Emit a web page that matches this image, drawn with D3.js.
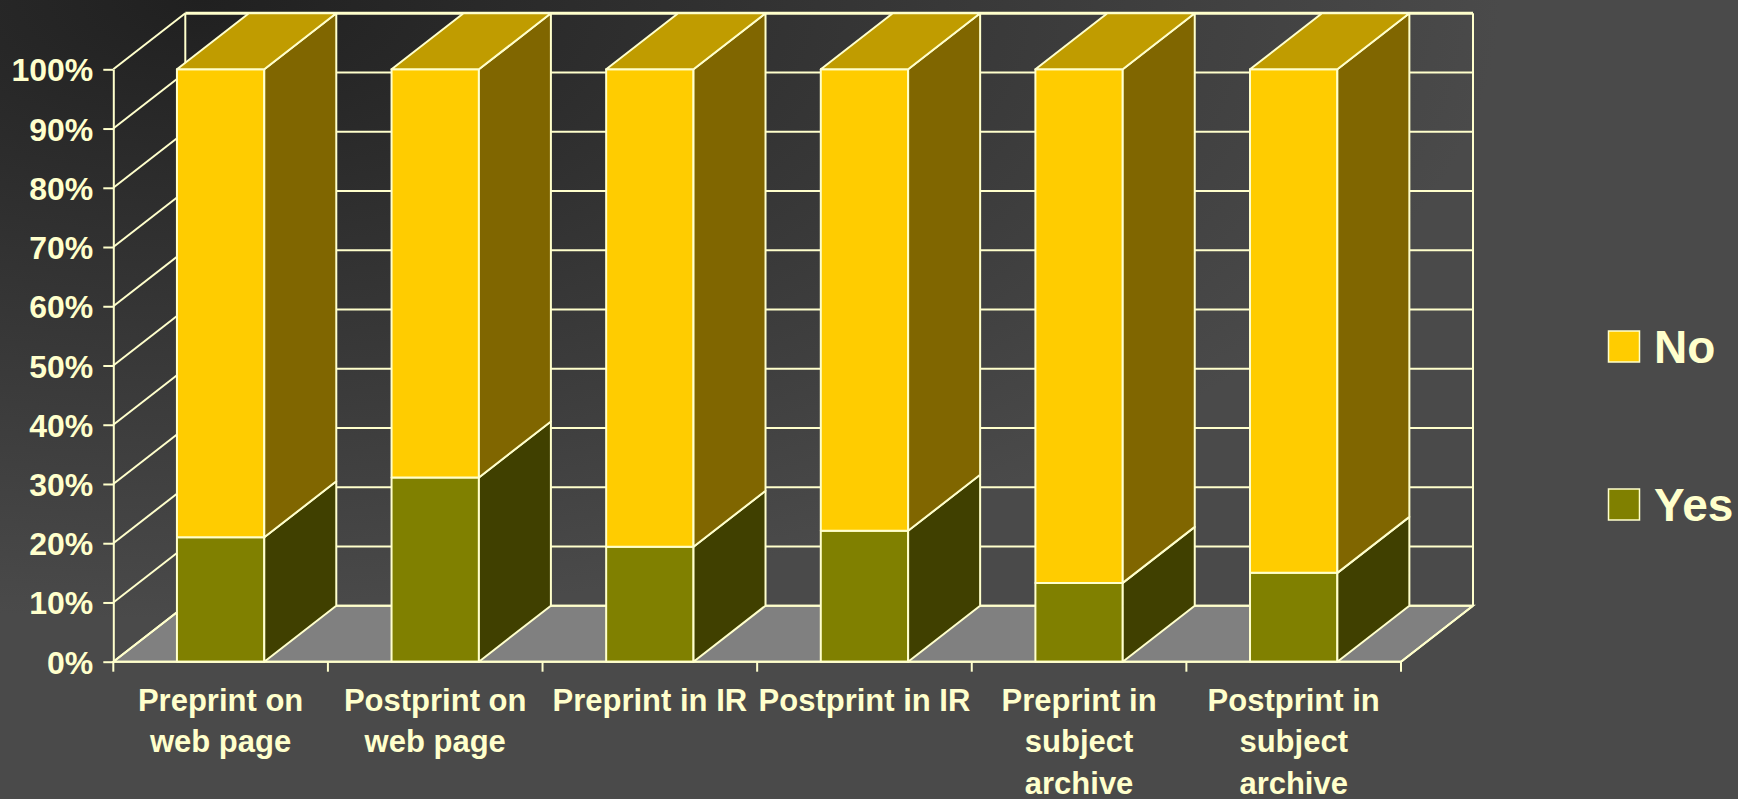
<!DOCTYPE html>
<html>
<head>
<meta charset="utf-8">
<script src="https://cdn.jsdelivr.net/npm/d3@7"></script>
<style>
  html, body { margin: 0; padding: 0; background: #3a3a3a; }
  svg { display: block; }
  text { font-family: "Liberation Sans", Arial, sans-serif; font-weight: bold; fill: #FFFFCC; }
</style>
</head>
<body>
<svg id="chart" width="1738" height="799"></svg>
<script>
// ---- data ----
const categories = [
  "Preprint on\nweb page",
  "Postprint on\nweb page",
  "Preprint in IR",
  "Postprint in IR",
  "Preprint in\nsubject\narchive",
  "Postprint in\nsubject\narchive"
];
const yesValues = [21.0, 31.1, 19.4, 22.1, 13.3, 15.0];
const noValues  = [79.0, 68.9, 80.6, 77.9, 86.7, 85.0];
const seriesNames = ["No", "Yes"];
const yTicks = [0, 10, 20, 30, 40, 50, 60, 70, 80, 90, 100];

// ---- layout ----
const W = 1738, H = 799;
const x0 = 113.3, x1 = 1401;
const yBottom = 661.7, yTop = 69.3;
const DX = 72, DY = 56;
const line = "#FFFFCC";
const colors = {
  noFront: "#FFCC00", noSide: "#806600", noTop: "#C09C00",
  yesFront: "#808000", yesSide: "#404000", yesTop: "#A0A000",
  floor: "#808080"
};

const svg = d3.select("#chart");
const defs = svg.append("defs");
const grad = defs.append("radialGradient")
  .attr("id", "bg").attr("gradientUnits", "userSpaceOnUse")
  .attr("cx", 0).attr("cy", 0).attr("r", 1)
  .attr("gradientTransform", "translate(200,0) scale(1300,620)");
grad.append("stop").attr("offset", 0).attr("stop-color", "#202020");
grad.append("stop").attr("offset", 1).attr("stop-color", "#4a4a4a");
svg.append("rect").attr("width", W).attr("height", H).attr("fill", "url(#bg)");

const y = d3.scaleLinear().domain([0, 100]).range([yBottom, yTop]);
const pi = 0.593;
const x = d3.scaleBand().domain(categories).range([x0, x1])
  .paddingInner(pi).paddingOuter(pi / 2);
const step = x.step();

// ---- floor ----
svg.append("path")
  .attr("d", `M${x0},${yBottom}L${x1},${yBottom}L${x1 + DX},${yBottom - DY}L${x0 + DX},${yBottom - DY}Z`)
  .attr("fill", colors.floor).attr("stroke", line).attr("stroke-width", 2);

// ---- back wall grid ----
const back = svg.append("g").attr("stroke", line).attr("fill", "none");
back.selectAll("line.bg").data(yTicks).join("line")
  .attr("x1", x0 + DX).attr("x2", x1 + DX)
  .attr("y1", d => y(d) - DY).attr("y2", d => y(d) - DY)
  .attr("stroke-width", d => d === 100 ? 3 : 2);
back.append("line").attr("x1", x0 + DX).attr("x2", x0 + DX)
  .attr("y1", y(100) - DY).attr("y2", y(0) - DY).attr("stroke-width", 2);
back.append("line").attr("x1", x1 + DX).attr("x2", x1 + DX)
  .attr("y1", y(100) - DY).attr("y2", y(0) - DY).attr("stroke-width", 2);
// left side wall diagonals
back.selectAll("line.diag").data(yTicks).join("line")
  .attr("x1", x0).attr("y1", d => y(d))
  .attr("x2", x0 + DX).attr("y2", d => y(d) - DY)
  .attr("stroke-width", 2);
// right floor edge
back.append("line").attr("x1", x1).attr("y1", yBottom)
  .attr("x2", x1 + DX).attr("y2", yBottom - DY).attr("stroke-width", 2);

// ---- bars ----
const stacks = categories.map((c, i) => ({
  cat: c,
  segs: [
    { name: "Yes", v0: 0, v1: yesValues[i], front: colors.yesFront, side: colors.yesSide, top: colors.yesTop },
    { name: "No", v0: yesValues[i], v1: yesValues[i] + noValues[i], front: colors.noFront, side: colors.noSide, top: colors.noTop }
  ]
}));
const bw = x.bandwidth();
const barsG = svg.append("g").attr("stroke", line).attr("stroke-width", 2).attr("stroke-linejoin", "round");
stacks.forEach(s => {
  const bx = x(s.cat);
  s.segs.forEach((seg, j) => {
    const yt = y(seg.v1), yb = y(seg.v0);
    barsG.append("rect").attr("x", bx).attr("y", yt).attr("width", bw).attr("height", yb - yt)
      .attr("fill", seg.front);
    barsG.append("path")
      .attr("d", `M${bx + bw},${yb}L${bx + bw},${yt}L${bx + bw + DX},${yt - DY}L${bx + bw + DX},${yb - DY}Z`)
      .attr("fill", seg.side);
    if (j === s.segs.length - 1) {
      barsG.append("path")
        .attr("d", `M${bx},${yt}L${bx + bw},${yt}L${bx + bw + DX},${yt - DY}L${bx + DX},${yt - DY}Z`)
        .attr("fill", seg.top);
    }
  });
});

// ---- y axis ----
const yAxis = d3.axisLeft(y).tickValues(yTicks).tickFormat(d => d + "%")
  .tickSize(10).tickSizeOuter(0).tickPadding(10);
const ya = svg.append("g").attr("transform", `translate(${x0},0)`).call(yAxis);
ya.select(".domain").attr("stroke", line).attr("stroke-width", 2);
ya.selectAll(".tick line").attr("stroke", line).attr("stroke-width", 2);
ya.selectAll(".tick text").attr("fill", line).attr("font-size", 32)
  .attr("font-family", "'Liberation Sans', Arial, sans-serif").attr("font-weight", "bold")
  .attr("dy", "0.36em");

// ---- x axis ----
const xa = svg.append("g");
xa.append("line").attr("x1", x0).attr("x2", x1).attr("y1", yBottom).attr("y2", yBottom)
  .attr("stroke", line).attr("stroke-width", 2);
const boundaries = d3.range(categories.length + 1).map(i => x0 + i * step);
xa.selectAll("line.tk").data(boundaries).join("line")
  .attr("x1", d => d).attr("x2", d => d).attr("y1", yBottom).attr("y2", yBottom + 10)
  .attr("stroke", line).attr("stroke-width", 2);
categories.forEach(c => {
  const cx = x(c) + bw / 2;
  const t = xa.append("text").attr("text-anchor", "middle").attr("font-size", 31);
  c.split("\n").forEach((ln, k) => {
    t.append("tspan").attr("x", cx).attr("y", 710.5 + k * 41.5).text(ln);
  });
});

// ---- legend ----
const legendItems = [
  { name: seriesNames[0], color: colors.noFront, y: 331 },
  { name: seriesNames[1], color: colors.yesFront, y: 489 }
];
const lg = svg.append("g");
legendItems.forEach(it => {
  lg.append("rect").attr("x", 1608.5).attr("y", it.y).attr("width", 31).attr("height", 31)
    .attr("fill", it.color).attr("stroke", line).attr("stroke-width", 1.5);
  lg.append("text").attr("x", 1654).attr("y", it.y + 32).attr("font-size", 46).text(it.name);
});
</script>
</body>
</html>
